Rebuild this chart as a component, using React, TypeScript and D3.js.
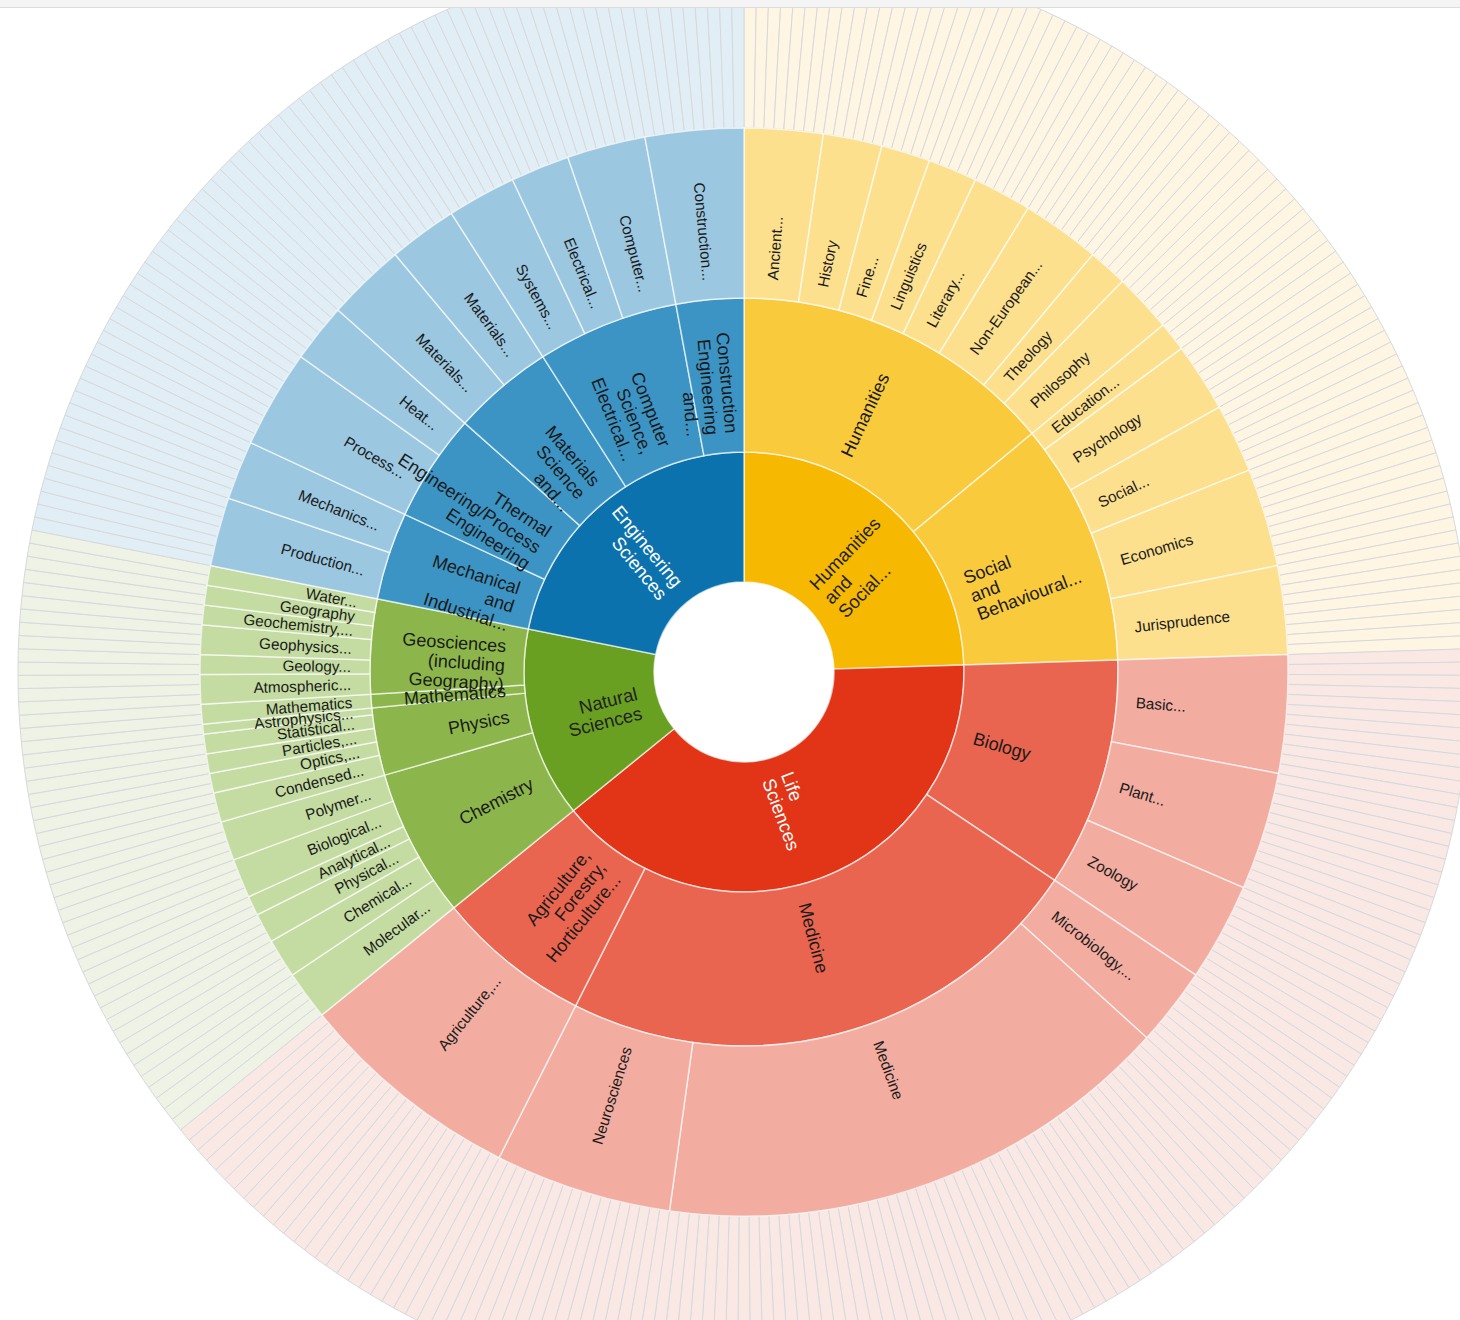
import React, { useMemo } from "react";
import * as d3 from "d3";

// ---------- DATA ----------
const areaNames = [
  "Humanities and Social Sciences",
  "Life Sciences",
  "Natural Sciences",
  "Engineering Sciences",
];

const boardNames = [
  "Humanities",
  "Social and Behavioural Sciences",
  "Biology",
  "Medicine",
  "Agriculture, Forestry, Horticulture and Veterinary Medicine",
  "Chemistry",
  "Physics",
  "Mathematics",
  "Geosciences (including Geography)",
  "Mechanical and Industrial Engineering",
  "Thermal Engineering/Process Engineering",
  "Materials Science and Engineering",
  "Computer Science, Electrical and System Engineering",
  "Construction Engineering and Architecture",
];
const boardArea = [0, 0, 1, 1, 1, 2, 2, 2, 2, 3, 3, 3, 3, 3];

const subjectNames = [
  "Ancient Cultures",
  "History",
  "Fine Arts, Music, Theatre and Media Studies",
  "Linguistics",
  "Literary Studies",
  "Non-European Languages and Cultures, Social and Cultural Anthropology",
  "Theology",
  "Philosophy",
  "Education Sciences",
  "Psychology",
  "Social Sciences",
  "Economics",
  "Jurisprudence",
  "Basic Research in Biology and Medicine",
  "Plant Sciences",
  "Zoology",
  "Microbiology, Virology and Immunology",
  "Medicine",
  "Neurosciences",
  "Agriculture, Forestry and Veterinary Medicine",
  "Molecular Chemistry",
  "Chemical Solid State and Surface Research",
  "Physical and Theoretical Chemistry",
  "Analytical Chemistry, Method Development",
  "Biological Chemistry and Food Chemistry",
  "Polymer Research",
  "Condensed Matter Physics",
  "Optics, Quantum Optics and Physics of Atoms",
  "Particles, Nuclei and Fields",
  "Statistical Physics, Soft Matter, Biological Physics",
  "Astrophysics and Astronomy",
  "Mathematics",
  "Atmospheric Science, Oceanography and Climate Research",
  "Geology and Palaeontology",
  "Geophysics and Geodesy",
  "Geochemistry, Mineralogy and Crystallography",
  "Geography",
  "Water Research",
  "Production Technology",
  "Mechanics and Constructive Mechanical Engineering",
  "Process Engineering, Technical Chemistry",
  "Heat Energy Technology, Thermal Machines, Fluid Mechanics",
  "Materials Engineering",
  "Materials Science",
  "Systems Engineering",
  "Electrical Engineering and Information Technology",
  "Computer Science",
  "Construction Engineering and Architecture",
];
const subjectBoard = [
  0, 0, 0, 0, 0, 0, 0, 0,
  1, 1, 1, 1, 1,
  2, 2, 2,
  3, 3, 3,
  4,
  5, 5, 5, 5, 5, 5,
  6, 6, 6, 6, 6,
  7,
  8, 8, 8, 8, 8, 8,
  9, 9,
  10, 10,
  11, 11,
  12, 12, 12,
  13,
];
// number of individual subjects (outer ring slices) in each subject area
const subjectLeafCounts = [
  8, 6, 5, 5, 6, 8, 4, 6,
  3, 7, 7, 10, 9,
  12, 12, 10,
  8, 53, 18,
  23,
  5, 4, 3, 2, 4, 4,
  3, 2, 2, 2, 1,
  2,
  3, 2, 3, 2, 2, 2,
  7, 6,
  10, 6,
  8, 7,
  7, 6, 8,
  10,
];

// ---------- STYLE ----------
const palette = [
  ["#F6B800", "#F9CA3C", "#FCE08E", "#FEF6E3"],
  ["#E23517", "#EA6550", "#F2ACA0", "#FAE8E5"],
  ["#6AA021", "#8CB64B", "#C4DBA2", "#EEF3E5"],
  ["#0B72AE", "#3C94C4", "#9BC7E0", "#E2EEF6"],
];
const level1TextColor = ["#222", "#fff", "#222", "#fff"];
const ringRadii = [90, 220, 374, 544, 726];
const fontSizes = [18.5, 18, 15.3];

function labelLines(name: string, depth: number): string[] {
  const words = name.split(" ");
  if (depth === 3) return [words.length > 1 ? words[0] + "..." : words[0]];
  if (words.length <= 3) return words;
  return [words[0], words[1], words[2] + "..."];
}

export default function App() {
  const width = 1460;
  const height = 1320;
  const cx = 744;
  const cy = 672;

  const root = useMemo(() => {
    const data = {
      name: "root",
      children: areaNames.map((a, ai) => ({
        name: a,
        area: ai,
        children: boardNames
          .map((b, bi) => ({ b, bi }))
          .filter((x) => boardArea[x.bi] === ai)
          .map(({ b, bi }) => ({
            name: b,
            area: ai,
            children: subjectNames
              .map((s, si) => ({ s, si }))
              .filter((x) => subjectBoard[x.si] === bi)
              .map(({ s, si }) => ({
                name: s,
                area: ai,
                children: d3.range(subjectLeafCounts[si]).map((k) => ({
                  name: `${s} ${k + 1}`,
                  area: ai,
                  value: 1,
                })),
              })),
          })),
      })),
    };
    const h = d3.hierarchy<any>(data).sum((d: any) => d.value || 0);
    return d3.partition<any>().size([2 * Math.PI, 5])(h);
  }, []);

  const rScale = d3.scaleLinear().domain([1, 2, 3, 4, 5]).range(ringRadii);
  const arc = d3
    .arc<any>()
    .startAngle((d: any) => d.x0)
    .endAngle((d: any) => d.x1)
    .innerRadius((d: any) => rScale(d.y0))
    .outerRadius((d: any) => rScale(d.y1));

  const nodes = root.descendants().filter((d: any) => d.depth > 0);
  const leaves = nodes.filter((d: any) => d.depth === 4);
  const inner = nodes.filter((d: any) => d.depth < 4);

  return (
    <svg
      width={width}
      height={height}
      style={{ position: "absolute", left: 0, top: 0, background: "#fff" }}
      fontFamily="Arial, 'Liberation Sans', sans-serif"
    >
      <g transform={`translate(${cx},${cy})`}>
        {leaves.map((d: any, i: number) => (
          <path
            key={"l" + i}
            d={arc(d) as string}
            fill={palette[d.data.area][3]}
            stroke="#d6d9dc"
            strokeWidth={1}
          />
        ))}
        {inner.map((d: any, i: number) => (
          <path
            key={"n" + i}
            d={arc(d) as string}
            fill={palette[d.data.area][d.depth - 1]}
            stroke="#ffffff"
            strokeOpacity={0.65}
            strokeWidth={1.5}
          />
        ))}
        {inner.map((d: any, i: number) => {
          const a = (((d.x0 + d.x1) / 2) * 180) / Math.PI;
          const r = rScale(d.y0) + 19;
          const lines = labelLines(d.data.name, d.depth);
          const fs = fontSizes[d.depth - 1];
          const lh = 1.08;
          const color = d.depth === 1 ? level1TextColor[d.data.area] : "#1a1a1a";
          return (
            <text
              key={"t" + i}
              transform={`rotate(${a - 90}) translate(${r},0) rotate(${a < 180 ? 0 : 180})`}
              textAnchor={a < 180 ? "start" : "end"}
              fontSize={fs}
              fill={color}
            >
              {lines.map((ln, k) => (
                <tspan
                  key={k}
                  x={0}
                  dy={k === 0 ? `${-(lines.length - 1) * 0.27 + 0.35}em` : `${lh}em`}
                >
                  {ln}
                </tspan>
              ))}
            </text>
          );
        })}
      </g>
      <rect x={0} y={0} width={width} height={7} fill="#f4f4f4" />
      <line x1={0} x2={width} y1={7.5} y2={7.5} stroke="#dddddd" strokeWidth={1} />
    </svg>
  );
}
